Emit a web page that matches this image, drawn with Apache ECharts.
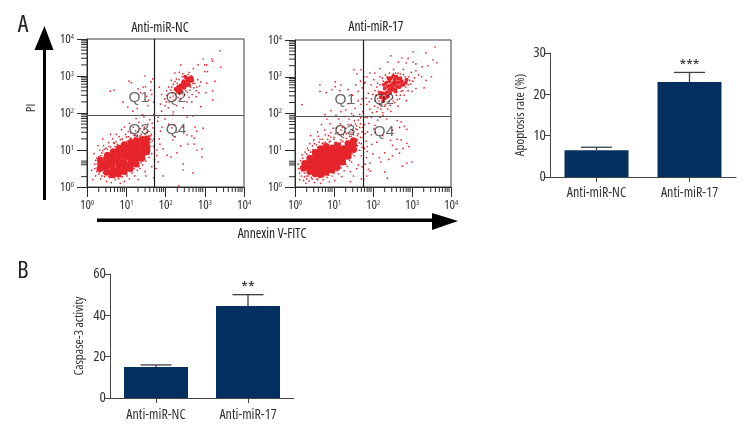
<!DOCTYPE html>
<html>
<head>
<meta charset="utf-8">
<style>html,body{margin:0;padding:0;background:#fff}#chart{width:756px;height:432px}</style>
<script src="https://cdn.jsdelivr.net/npm/echarts@6/dist/echarts.min.js"></script>
</head>
<body>
<div id="chart"></div>
<script>
// Open Sans with the condensed stretch is the closest installed face
var FONT = '"Open Sans",sans-serif';
var NARROW = 'condensed';

// flow plots: all positions, in log10 decades
var minorTicksX = [.3,.48,.6,.7,.78,.85,.9,.95,1.3,1.48,1.6,1.7,1.78,1.85,1.9,1.95,2.3,2.48,2.6,2.7,2.78,2.85,2.9,2.95,3.3,3.48,3.6,3.7,3.78,3.85,3.9,3.95];
var minorTicksY = [.28,.6,.65,.7,1.3,1.48,1.6,1.7,1.78,1.85,1.9,1.95,2.3,2.48,2.6,2.7,2.78,2.85,2.9,2.95,3.3,3.48,3.6,3.7,3.78,3.85,3.9,3.95];
var quadrantNames = ['Q1','Q2','Q3','Q4'];
var quadrantsNC = [[1.32,2.4],[2.27,2.4],[1.32,1.54],[2.27,1.54]];
var quadrants17 = [[1.28,2.38],[2.28,2.38],[1.28,1.54],[2.28,1.51]];
var gateNC = [1.71,1.95];
var gate17 = [1.74,1.92];

// dense parts of the clouds
var coreNC = [[.33,.5],[.36,.62],[.34,.72],[.5,.4],[.48,.52],[.52,.65],[.5,.78],[.52,.86],[.65,.33],[.66,.45],[.64,.58],[.66,.7],[.65,.82],[.67,.95],
[.8,.35],[.8,.48],[.82,.6],[.79,.72],[.81,.85],[.8,.98],[.82,1.05],[.95,.42],[.96,.55],[.94,.67],[.96,.8],[.95,.92],[.97,1.05],[.95,1.14],
[1.1,.5],[1.1,.62],[1.12,.75],[1.09,.88],[1.11,1],[1.1,1.12],[1.12,1.2],[1.25,.62],[1.26,.75],[1.24,.88],[1.26,1],[1.25,1.12],[1.26,1.25],
[1.4,.78],[1.41,.9],[1.39,1.02],[1.41,1.15],[1.4,1.28],[1.52,.95],[1.53,1.08],[1.51,1.2],[1.52,1.3]];
var clusterNC = [[2.3,2.58],[2.36,2.64],[2.42,2.7],[2.46,2.76],[2.5,2.82],[2.56,2.88],[2.6,2.94],[2.44,2.8],[2.52,2.74],[2.34,2.56],[2.4,2.6],[2.48,2.68],[2.56,2.78],[2.62,2.86],[2.38,2.74],[2.46,2.86],[2.54,2.94],[2.66,2.96],[2.26,2.64],[2.32,2.7],[2.6,2.76],[2.68,2.88],[2.5,2.98]];
var core17 = [[.22,.52],[.25,.64],[.38,.42],[.38,.54],[.37,.66],[.38,.78],[.52,.36],[.52,.48],[.53,.6],[.51,.72],[.53,.84],[.52,.94],
[.66,.34],[.67,.46],[.65,.58],[.67,.7],[.66,.82],[.67,.94],[.66,1.04],[.8,.4],[.8,.52],[.81,.64],[.79,.76],[.81,.88],[.8,1],[.8,1.1],
[.95,.46],[.94,.58],[.96,.7],[.95,.82],[.94,.94],[.96,1.06],[1.08,.54],[1.1,.66],[1.08,.78],[1.09,.9],[1.1,1.02],[1.09,1.12],
[1.22,.68],[1.23,.8],[1.22,.92],[1.24,1.04],[1.36,.84],[1.37,.96],[1.36,1.08],[1.36,1.18],[1.5,1.02],[1.5,1.14],[1.5,1.26]];
var cluster17 = [[2.25,2.55],[2.3,2.68],[2.36,2.58],[2.38,2.74],[2.42,2.88],[2.48,2.64],[2.5,2.8],[2.56,2.92],[2.62,2.72],[2.66,2.84],[2.74,2.88],[2.6,3],[2.46,2.96],[2.78,2.78],[2.3,2.42],[2.38,2.46],[2.2,2.44],[2.56,2.66],[2.7,2.96],[2.84,2.84],[2.34,2.84],[2.52,3.02],
[2.42,2.66],[2.44,2.76],[2.56,2.78],[2.5,2.7],[2.62,2.84],[2.68,2.72],[2.54,2.86],[2.44,2.56],[2.32,2.54],[2.28,2.78],[2.4,2.96],[2.74,2.78],[2.66,2.94],[2.58,2.6],[2.26,2.34],[2.18,2.56],[2.86,2.92]];

// single events
var dotsNC = [
[.12,.45],[.18,.9],[.2,.62],[.22,.3],[.25,.78],[.3,.35],[.32,1],[.35,.22],[.38,.92],[.42,1.12],[.45,.28],[.48,1.05],[.5,.15],[.55,1.2],[.58,.25],[.6,1.08],[.62,.12],[.65,1.3],[.7,1.18],[.72,.2],[.75,1.42],[.78,1.15],[.8,.22],[.85,1.28],[.88,1.55],[.9,.28],[.92,1.2],[.95,.15],[1,1.35],[1.02,.3],[1.05,1.5],[1.08,.22],[1.1,1.32],[1.15,.38],[1.18,1.62],[1.2,1.4],[1.22,.3],[1.28,.45],[1.3,1.5],[1.32,1.75],[1.35,.5],[1.38,1.42],[1.42,.6],[1.45,1.55],[1.48,.42],[1.5,.7],[1.52,1.48],[1.55,1.7],[1.58,.8],[1.6,1],[1.62,1.38],[1.65,.55],[1.65,.9],[1.66,1.25],[1.68,1.6],[1.7,.25],[1.7,1.1],[1.72,.75],[1.72,1.45],[.4,1.3],[.28,1.12],[.6,1.42],[.85,.1],[.15,.2],[.95,1.62],[1.25,1.85],[1.45,1.9],[1.6,1.82],[1.08,1.72],[1.5,.3],[1.3,.2],[1.66,1.72],[1.7,1.3],
[.2,.5],[.22,.72],[.25,.42],[.26,.62],[.3,.82],[.38,.3],[.4,.98],[.42,.38],[.44,1.02],[.55,.28],[.56,1.1],[.6,.3],[.7,.26],[.72,1.1],[.74,1.22],[.85,.28],[.88,1.12],[.9,1.3],[1,.35],[1.02,1.24],[1.05,1.36],[1.12,.42],[1.14,1.3],[1.2,.5],[1.22,1.34],[1.28,1.4],[1.32,.55],[1.35,1.38],[1.38,.66],[1.42,1.36],[1.46,.78],[1.48,1.42],[1.55,.88],[1.58,1.38],[1.6,1.2],[1.62,1.3],[1.6,1.1],[1.64,1.42],[1.58,1.5],[1.46,1.62],[1.36,1.58],[1.24,1.52],[1.12,1.46],[.98,1.42],[.82,1.36],[.68,1.2],[.52,1.02],[.35,.85],[.28,.55],[.32,.4],
[.59,2.59],[.69,2.62],[1.07,2.86],[1.13,2.82],[1.48,3],[1.3,2.65],[1.43,2.7],[1.49,2.71],[1.37,2.55],[1.63,2.84],[1.68,2.92],[1.65,2.5],[.92,2.3],[1.04,2.16],[1.17,2.05],[1.7,2.3],[1.55,2.2],[1.57,2.35],[1.41,1.96],[1.7,1.96],[1.62,2.62],[1.52,2.45],[1.28,2.12],
[3.39,3.68],[3.18,3.46],[2.96,3.46],[3.2,3.4],[2.83,3.3],[3,3.3],[3.05,3.3],[3.41,3.24],[2.39,3.3],[3,3.12],[3.07,3.12],[2.71,3.2],[3.26,2.86],[3.05,2.81],[2.9,2.84],[3.2,2.6],[3.2,2.35],[3.03,2.55],[2.87,2.73],[2.85,2.55],[2.78,2.6],[2.7,2.8],[2.24,3.08],[2.35,3.1],[2.15,2.88],[2.24,2.85],[2.03,2.6],[1.9,2.5],[1.99,2.2],[1.87,2.24],[1.9,2.05],[2.2,2.03],[2.07,2.14],[2.45,2.14],[2.67,2.3],[2.55,2.3],[2.9,2.17],
[2.12,2.42],[2.18,2.55],[2.1,2.3],[2.22,2.35],[2.28,2.2],[2.32,2.42],[2.25,2.68],[2.3,2.8],[2.35,2.9],[2.42,2.98],[2.5,3],[2.58,3.04],[2.66,3],[2.7,2.92],[2.72,2.68],[2.62,2.62],[2.68,2.5],[2.56,2.56],[2.48,2.48],[2.38,2.38],[2.42,2.52],[2.16,2.7],[1.98,2.38],[1.84,2.7],[2.04,2.48],[2.78,2.44],[2.6,2.42],[2.82,2.9],
[2.2,2.46],[2.26,2.5],[2.14,2.62],[2.2,2.78],[2.28,2.92],[2.36,2.5],[2.52,2.6],[2.64,2.7],[2.74,2.8],[2.8,2.7],[2.44,3.06],[2.6,3.1],[2.08,2.7],[2.02,2.3],
[1.81,1.89],[1.99,1.84],[2.19,1.95],[2.55,1.89],[2.7,1.92],[1.91,1.62],[2.45,1.62],[2.75,1.62],[2.96,1.59],[2.8,1.51],[1.87,1.51],[2.24,1.35],[2.55,1.41],[2.67,1.38],[2.73,1.32],[2.19,1.27],[2.57,1.16],[2.73,1.16],[2.39,1.11],[1.86,1.16],[1.94,1.03],[1.78,1],[2.8,1],[2.93,1.03],[2.04,.86],[2.14,.81],[2.29,.92],[2.93,.81],[1.81,.68],[2.45,.62],[2.45,.46],[2.7,.38],[1.94,.3],[2.34,.03],[2.08,1.7],[2.16,1.6],[2.22,1.68],[2.3,1.48],[1.8,1.78],[1.84,1.3],[1.76,.5],[1.78,.85]
];
var dots17 = [
[.1,.5],[.14,.72],[.16,.3],[.18,.88],[.22,.18],[.26,.95],[.28,.1],[.32,1.05],[.36,.16],[.38,1.18],[.42,.26],[.46,1.02],[.48,1.28],[.5,.12],[.55,1.15],[.58,.2],[.6,1.38],[.62,1.22],[.66,.1],[.7,1.3],[.72,.2],[.76,1.55],[.78,1.22],[.82,.26],[.86,1.4],[.88,.14],[.9,1.25],[.95,.3],[.98,1.6],[1,1.35],[1.02,.18],[1.05,1.22],[1.1,1.48],[1.12,.36],[1.16,1.72],[1.18,1.28],[1.2,.28],[1.24,1.42],[1.26,.44],[1.3,1.6],[1.32,1.25],[1.34,.56],[1.38,1.85],[1.4,1.38],[1.42,.42],[1.45,.68],[1.48,1.55],[1.5,.3],[1.52,.85],[1.55,1.72],[1.58,1],[1.6,1.4],[1.62,.6],[1.65,1.2],[1.66,1.62],[1.7,.22],[1.7,.85],[1.72,1.08],[1.72,1.5],[1.68,1.88],[.4,.95],[.3,.3],[.58,1.5],[.24,.38],[1.12,1.85],[.9,1.72],[.68,1.7],[.82,1.85],[1.05,1.95],[1.28,1.92],[1.5,1.95],[.4,1.4],[1.42,.15],[1.58,.5],[.12,.2],[1.48,1.25],[1.62,1.82],[1.75,1.35],[1.72,.55],
[.08,.62],[.12,.38],[.15,.55],[.18,.44],[.2,.78],[.24,.28],[.26,.56],[.3,.22],[.3,.9],[.34,.3],[.35,1],[.44,.22],[.45,1.12],[.56,.22],[.58,1.08],[.62,.26],[.72,1.2],[.74,.3],[.86,.32],[.88,1.22],[.92,1.36],[1,.38],[1.02,1.2],[1.08,.44],[1.16,1.2],[1.18,.52],[1.22,1.24],[1.3,.62],[1.32,1.32],[1.4,.72],[1.44,1.38],[1.46,.9],[1.52,.96],[1.56,1.3],[1.6,1.12],[1.6,1.28],[1.62,1.45],[1.5,1.42],[1.4,1.5],[1.28,1.5],[1.14,1.42],[1,1.3],[.84,1.3],[.7,1.18],[1.66,1],[1.68,1.35],[1.56,1.58],[1.44,1.7],[1.22,1.62],[1.06,1.6],
[.92,1.48],[1.04,1.45],[1.18,1.55],[1.32,1.45],[1.46,1.48],[1.58,1.66],[.78,1.42],[.64,1.3],[.5,1.18],[1.36,1.7],[1.52,1.8],[1.6,1.56],[1.68,1.72],[1.74,1.62],[1.7,1.18],
[.18,2.24],[.64,2.78],[.64,2.6],[.8,2.57],[.95,2.65],[1.03,2.86],[1.03,2.73],[1.18,2.78],[1.15,2.62],[1.36,2.65],[1.56,2.78],[1.51,3.19],[1.69,3.19],[1.59,3.08],[1.77,3],[1.18,2.05],[.92,2.08],[.77,1.97],[1.36,2.27],[1.54,2.14],[1.62,2.6],[1.62,2.35],[1.72,2.4],[1.69,2.25],[1.74,2.05],[1.66,1.98],[1.72,2.7],[1.78,2.82],[1.68,2.88],[1.48,2.5],[1.3,2.1],[1.45,2],
[3.59,3.81],[3.36,3.65],[3.03,3.68],[3.54,3.46],[3.64,3.38],[2.74,3.51],[2.9,3.5],[3.03,3.4],[3.1,3.35],[2.46,3.57],[2.38,3.4],[2.65,3.4],[2.85,3.38],[3.41,3.3],[3.26,3.27],[3.1,3.16],[3.5,3],[3.25,3],[3.36,2.9],[3.06,2.97],[3.17,3.05],[3.31,2.7],[3.1,2.68],[2.98,3.12],[2.78,3.2],[2.53,3.2],[2.18,3.22],[2.05,3.1],[1.92,3.1],[1.85,3],[1.8,2.85],
[1.88,2.55],[1.95,2.78],[1.96,2.4],[2.02,2.92],[2.04,2.2],[2.05,2.62],[2.1,2.05],[2.12,2.4],[2.12,2.82],[2.16,2.25],[2.18,3],[2.2,2.12],[2.24,2.42],[2.26,2.88],[2.3,2.2],[2.32,3.05],[2.34,2.4],[2.38,2.12],[2.42,3.1],[2.42,2.32],[2.5,2.42],[2.52,3.08],[2.56,2.3],[2.6,2.5],[2.64,3.1],[2.68,2.4],[2.72,2.6],[2.78,3.06],[2.8,2.5],[2.84,2.72],[2.86,2.92],[2.9,2.62],[2.92,3],[2.96,2.8],[3,2.6],[3.02,2.88],[1.84,2.25],[1.92,2.12],[1.98,2.02],[2.25,2.02],[2.46,2.06],[2.64,2.2],[2.86,2.35],
[2.08,2.5],[2.14,2.6],[2.1,2.72],[2.16,2.34],[2.22,2.24],[2.28,2.32],[2.18,2.78],[2.24,2.96],[2.06,2.34],[2,2.52],[2.32,2.24],[2.44,2.22],[2.52,2.34],[2.62,2.38],[2.7,2.5],[2.76,2.62],[2.9,2.78],[2.94,2.9],[2.82,3],[2.7,3.08],[2.58,3.1],[2.36,3],[2.12,2.16],[1.9,2.32],[1.82,2.42],
[1.85,1.89],[2.26,1.95],[2.35,1.85],[2.62,1.81],[2.72,1.77],[2.68,1.62],[2.8,1.65],[2.87,1.57],[1.9,1.73],[2.05,1.68],[1.86,1.5],[1.96,1.42],[2.06,1.48],[2.5,1.55],[2.25,1.4],[2.62,1.3],[2.72,1.28],[2.87,1.19],[2.92,1.1],[2.45,1.27],[2.5,1.13],[2.1,1.22],[1.97,1.16],[1.85,1.1],[2.6,1.03],[2.77,1.05],[2.68,.92],[2.3,.93],[2.5,.85],[2.16,.8],[2,.9],[1.85,.97],[1.83,.8],[2.2,.68],[2.4,.75],[3,.68],[2.87,.65],[2.75,.57],[1.92,.65],[1.88,.48],[1.93,.43],[2.3,.41],[2.37,.24],[1.78,1.7],[1.8,1.45],[1.82,1.25],[1.78,1.05],[1.8,.62],[1.8,1.9],[1.96,1.9],[2.12,1.82],[2.18,1.9],[2.02,1.58],[1.76,.2],[1.84,.3]
];

// bar panels
var barCategories = ['Anti-miR-NC','Anti-miR-17'];
var apoptosisValues = [6.5,23];
var apoptosisErrors = [7.2,25.3];
var apoptosisMarks = ['','***'];
var caspaseValues = [15,44.5];
var caspaseErrors = [16,50];
var caspaseMarks = ['','**'];
var apoptosisTicks = [0,10,20,30];
var caspaseTicks = [0,20,40,60];

var DARK = '#2b2b2b', RED = '#e5242b', NAVY = '#04305f';

var chart = echarts.init(document.getElementById('chart'), null, {renderer:'canvas'});

function minorSeries(values, dim, gridIndex, len) {
  return {
    type:'custom', xAxisIndex:gridIndex, yAxisIndex:gridIndex, silent:true, z:1,
    data:values.map(function (v) { return [v]; }),
    encode:dim === 'x' ? {x:0} : {y:0},
    renderItem:function (params, api) {
      var v = api.value(0);
      var p = api.coord(dim === 'x' ? [v,0] : [0,v]);
      return {type:'line', silent:true,
        shape:dim === 'x' ? {x1:p[0],y1:p[1],x2:p[0],y2:p[1]+len} : {x1:p[0],y1:p[1],x2:p[0]-len,y2:p[1]},
        style:{stroke:DARK,lineWidth:1}};
    }
  };
}

function flowSeries(gridIndex, core, cluster, dots, gate, quads) {
  var solid = {color:RED,opacity:1};
  return [
    minorSeries(minorTicksX,'x',gridIndex,5),
    minorSeries(minorTicksY,'y',gridIndex,6),
    {type:'scatter',xAxisIndex:gridIndex,yAxisIndex:gridIndex,data:core,symbolSize:7,silent:true,z:2,itemStyle:solid},
    {type:'scatter',xAxisIndex:gridIndex,yAxisIndex:gridIndex,data:cluster,symbolSize:4,silent:true,z:2,itemStyle:solid},
    {type:'scatter',xAxisIndex:gridIndex,yAxisIndex:gridIndex,data:dots,symbolSize:1.7,silent:true,z:2,itemStyle:solid,
      markLine:{silent:true,symbol:'none',animation:false,label:{show:false},z:3,
        data:[{xAxis:gate[0],lineStyle:{color:'#1e1e1e',width:1.2,type:'solid'}},{yAxis:gate[1],lineStyle:{color:'#555',width:1.2,type:'solid'}}]}},
    {type:'scatter',xAxisIndex:gridIndex,yAxisIndex:gridIndex,silent:true,z:4,symbolSize:0,
      data:quads.map(function (q,i) { return {name:quadrantNames[i],value:q}; }),
      label:{show:true,position:'inside',formatter:'{b}',fontFamily:'"Liberation Sans",sans-serif',fontSize:15.5,color:'rgba(35,35,35,.85)'}}
  ];
}

function barSeries(gridIndex, values, errors, marks) {
  return [
    {type:'bar',xAxisIndex:gridIndex,yAxisIndex:gridIndex,data:values,barWidth:64,itemStyle:{color:NAVY},silent:true,z:2},
    {type:'custom',xAxisIndex:gridIndex,yAxisIndex:gridIndex,silent:true,z:1,
      data:errors.map(function (e,i) { return [i,e,values[i]]; }),
      encode:{x:0,y:1},
      renderItem:function (params, api) {
        var top = api.coord([api.value(0),api.value(1)]);
        var base = api.coord([api.value(0),api.value(2)]);
        var mark = marks[params.dataIndex];
        var style = {stroke:'#3a4048',lineWidth:1.3};
        return {type:'group',children:[
          {type:'line',shape:{x1:top[0],y1:base[1],x2:top[0],y2:top[1]},style:style},
          {type:'line',shape:{x1:top[0]-15.5,y1:top[1],x2:top[0]+15.5,y2:top[1]},style:style},
          {type:'text',style:{text:mark,x:top[0],y:top[1]-6.5,align:'center',verticalAlign:'middle',font:NARROW+' 17px '+FONT,fill:'#333'}}
        ]};
      }}
  ];
}

function flowAxis(grid, dim) {
  return {
    type:'value', gridIndex:grid, min:0, max:4, interval:1,
    splitLine:{show:false},
    axisLine:{show:true,onZero:false,lineStyle:{color:DARK,width:1}},
    axisTick:{show:true,length:10,lineStyle:{color:DARK,width:1}},
    axisLabel:{show:true,margin:dim === 'x' ? 12 : 13,fontFamily:FONT,fontWeight:NARROW,color:'#333',
      formatter:function (v) { return '{b|10}{s|'+v+'}'; },
      rich:{b:{fontFamily:FONT,fontWeight:NARROW,fontSize:13,color:'#333'},s:{fontFamily:FONT,fontWeight:NARROW,fontSize:7.5,color:'#333',verticalAlign:'top',padding:[0,0,5,0]}}}
  };
}

function barXAxis(grid, margin) {
  return {
    type:'category', gridIndex:grid, data:barCategories,
    axisLine:{show:true,lineStyle:{color:'#444',width:1}},
    axisTick:{show:true,alignWithLabel:true,length:5,lineStyle:{color:'#444'}},
    axisLabel:{fontFamily:FONT,fontWeight:NARROW,fontSize:14,color:'#333',margin:margin}
  };
}

function barYAxis(grid, ticks, name, gap) {
  return {
    type:'value', gridIndex:grid, min:ticks[0], max:ticks[ticks.length-1], interval:ticks[1]-ticks[0],
    splitLine:{show:false},
    axisLine:{show:true,lineStyle:{color:'#444',width:1}},
    axisTick:{show:true,length:5,lineStyle:{color:'#444'}},
    axisLabel:{fontFamily:FONT,fontWeight:NARROW,fontSize:15,color:'#333',margin:4},
    name:name, nameLocation:'middle', nameGap:gap, nameRotate:90,
    nameTextStyle:{fontFamily:FONT,fontWeight:NARROW,fontSize:13,color:'#333'}
  };
}

function heading(text, left, top, size) {
  return {text:text,left:left,top:top,textAlign:'center',padding:0,
    textStyle:{fontFamily:FONT,fontWeight:NARROW,fontSize:size,color:'#222'}};
}

var option = {
  animation:false,
  backgroundColor:'#fff',
  title:[
    heading('A',23,13,24),
    heading('B',23,259,24),
    heading('Anti-miR-NC',160,21,13.5),
    heading('Anti-miR-17',376,20,13.5),
    heading('Annexin V-FITC',272,227,13.5)
  ],
  grid:[
    {left:87,top:39,width:157,height:148,show:true,borderColor:'#3c3c3c',borderWidth:1,backgroundColor:'transparent'},
    {left:295,top:40,width:156,height:147,show:true,borderColor:'#3c3c3c',borderWidth:1,backgroundColor:'transparent'},
    {left:550,top:53,width:186,height:124},
    {left:110,top:274,width:184,height:124}
  ],
  xAxis:[flowAxis(0,'x'),flowAxis(1,'x'),barXAxis(2,9),barXAxis(3,10)],
  yAxis:[flowAxis(0,'y'),flowAxis(1,'y'),
    barYAxis(2,apoptosisTicks,'Apoptosis rate (%)',23),
    barYAxis(3,caspaseTicks,'Caspase-3 activity',24)],
  series:[].concat(
    flowSeries(0,coreNC,clusterNC,dotsNC,gateNC,quadrantsNC),
    flowSeries(1,core17,cluster17,dots17,gate17,quadrants17),
    barSeries(2,apoptosisValues,apoptosisErrors,apoptosisMarks),
    barSeries(3,caspaseValues,caspaseErrors,caspaseMarks)
  ),
  graphic:[
    {type:'rect',shape:{x:43,y:48,width:3,height:152},style:{fill:'#000'}},
    {type:'polygon',shape:{points:[[44.5,26],[53.5,50],[34.5,50]]},style:{fill:'#000'}},
    {type:'rect',shape:{x:97,y:218.5,width:338,height:3.5},style:{fill:'#000'}},
    {type:'polygon',shape:{points:[[458,221],[432,213],[432,230]]},style:{fill:'#000'}},
    {type:'text',x:31,y:108,rotation:Math.PI/2,style:{text:'PI',font:NARROW+' 13px '+FONT,fill:'#333',align:'center',verticalAlign:'middle'}}
  ]
};
chart.setOption(option);
</script>
</body>
</html>
